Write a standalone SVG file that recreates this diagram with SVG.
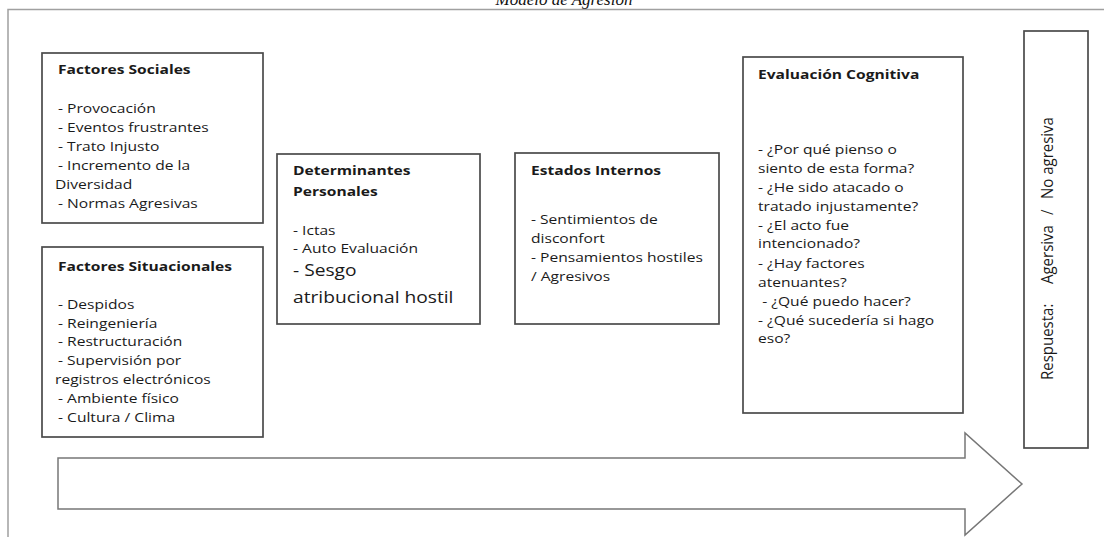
<svg xmlns="http://www.w3.org/2000/svg" width="1104" height="537" viewBox="0 0 1104 537">
<style>
.box{fill:#fff;stroke:#4a4a4a;stroke-width:1.7}
.t{font-family:"Open Sans","Liberation Sans",sans-serif;font-size:13px;fill:#1a1a1a}
.b{font-weight:bold}
.big{font-size:16px}
.r{font-family:"Open Sans","Liberation Sans",sans-serif;font-size:15px;fill:#1a1a1a}
.frame{fill:none;stroke:#a0a0a0;stroke-width:1.5}
</style>
<rect width="1104" height="537" fill="#fff"/>
<text x="564" y="5" text-anchor="middle" font-family="Liberation Serif,serif" font-style="italic" font-size="17" fill="#111">Modelo de Agresión</text>
<path class="frame" d="M8,537 V9.5 H1104"/>
<g id="factores-sociales">
<rect class="box" x="42" y="53" width="221" height="170"/>
<g transform="translate(58,0) scale(1.2,1)">
<text class="t b" x="0" y="74">Factores Sociales</text>
<text class="t" x="0" y="113">- Provocación</text>
<text class="t" x="0" y="132">- Eventos frustrantes</text>
<text class="t" x="0" y="151">- Trato Injusto</text>
<text class="t" x="0" y="170">- Incremento de la</text>
<text class="t" x="-2.5" y="189">Diversidad</text>
<text class="t" x="0" y="208">- Normas Agresivas</text>
</g>
</g>
<g id="factores-situacionales">
<rect class="box" x="42" y="247" width="221" height="190"/>
<g transform="translate(58,0) scale(1.2,1)">
<text class="t b" x="0" y="271">Factores Situacionales</text>
<text class="t" x="0" y="309">- Despidos</text>
<text class="t" x="0" y="328">- Reingeniería</text>
<text class="t" x="0" y="346">- Restructuración</text>
<text class="t" x="0" y="365">- Supervisión por</text>
<text class="t" x="-2.5" y="384">registros electrónicos</text>
<text class="t" x="0" y="403">- Ambiente físico</text>
<text class="t" x="0" y="422">- Cultura / Clima</text>
</g>
</g>
<g id="determinantes-personales">
<rect class="box" x="277" y="154" width="203" height="170"/>
<g transform="translate(293,0) scale(1.2,1)">
<text class="t b" x="0" y="175">Determinantes</text>
<text class="t b" x="0" y="196">Personales</text>
<text class="t" x="0" y="235">- Ictas</text>
<text class="t" x="0" y="253">- Auto Evaluación</text>
<text class="t big" x="0" y="276">- Sesgo</text>
<text class="t big" x="0" y="303">atribucional hostil</text>
</g>
</g>
<g id="estados-internos">
<rect class="box" x="515" y="153" width="204" height="171"/>
<g transform="translate(531,0) scale(1.2,1)">
<text class="t b" x="0" y="175">Estados Internos</text>
<text class="t" x="0" y="224">- Sentimientos de</text>
<text class="t" x="0" y="243">disconfort</text>
<text class="t" x="0" y="262">- Pensamientos hostiles</text>
<text class="t" x="0" y="281">/ Agresivos</text>
</g>
</g>
<g id="evaluacion-cognitiva">
<rect class="box" x="743" y="57" width="220" height="356"/>
<g transform="translate(758,0) scale(1.2,1)">
<text class="t b" x="0" y="79">Evaluación Cognitiva</text>
<text class="t" x="0" y="154">- ¿Por qué pienso o</text>
<text class="t" x="0" y="173">siento de esta forma?</text>
<text class="t" x="0" y="192">- ¿He sido atacado o</text>
<text class="t" x="0" y="211">tratado injustamente?</text>
<text class="t" x="0" y="230">- ¿El acto fue</text>
<text class="t" x="0" y="248">intencionado?</text>
<text class="t" x="0" y="268">- ¿Hay factores</text>
<text class="t" x="0" y="287">atenuantes?</text>
<text class="t" x="3.5" y="306">- ¿Qué puedo hacer?</text>
<text class="t" x="0" y="325">- ¿Qué sucedería si hago</text>
<text class="t" x="0" y="343">eso?</text>
</g>
</g>
<g id="respuesta">
<rect class="box" x="1024" y="31" width="64" height="417"/>
<g transform="translate(1053,0) scale(1.1,1)">
<text class="r" transform="translate(0,380) rotate(-90)">Respuesta:</text>
<text class="r" transform="translate(0,284) rotate(-90)">Agersiva</text>
<text class="r" transform="translate(0,215) rotate(-90)">/</text>
<text class="r" transform="translate(0,199) rotate(-90)">No agresiva</text>
</g>
</g>
<g id="connectors">
<polygon points="58,458 965,458 965,433 1022,484 965,535 965,509 58,509" fill="#fff" stroke="#777" stroke-width="1.5"/>
</g>
</svg>
